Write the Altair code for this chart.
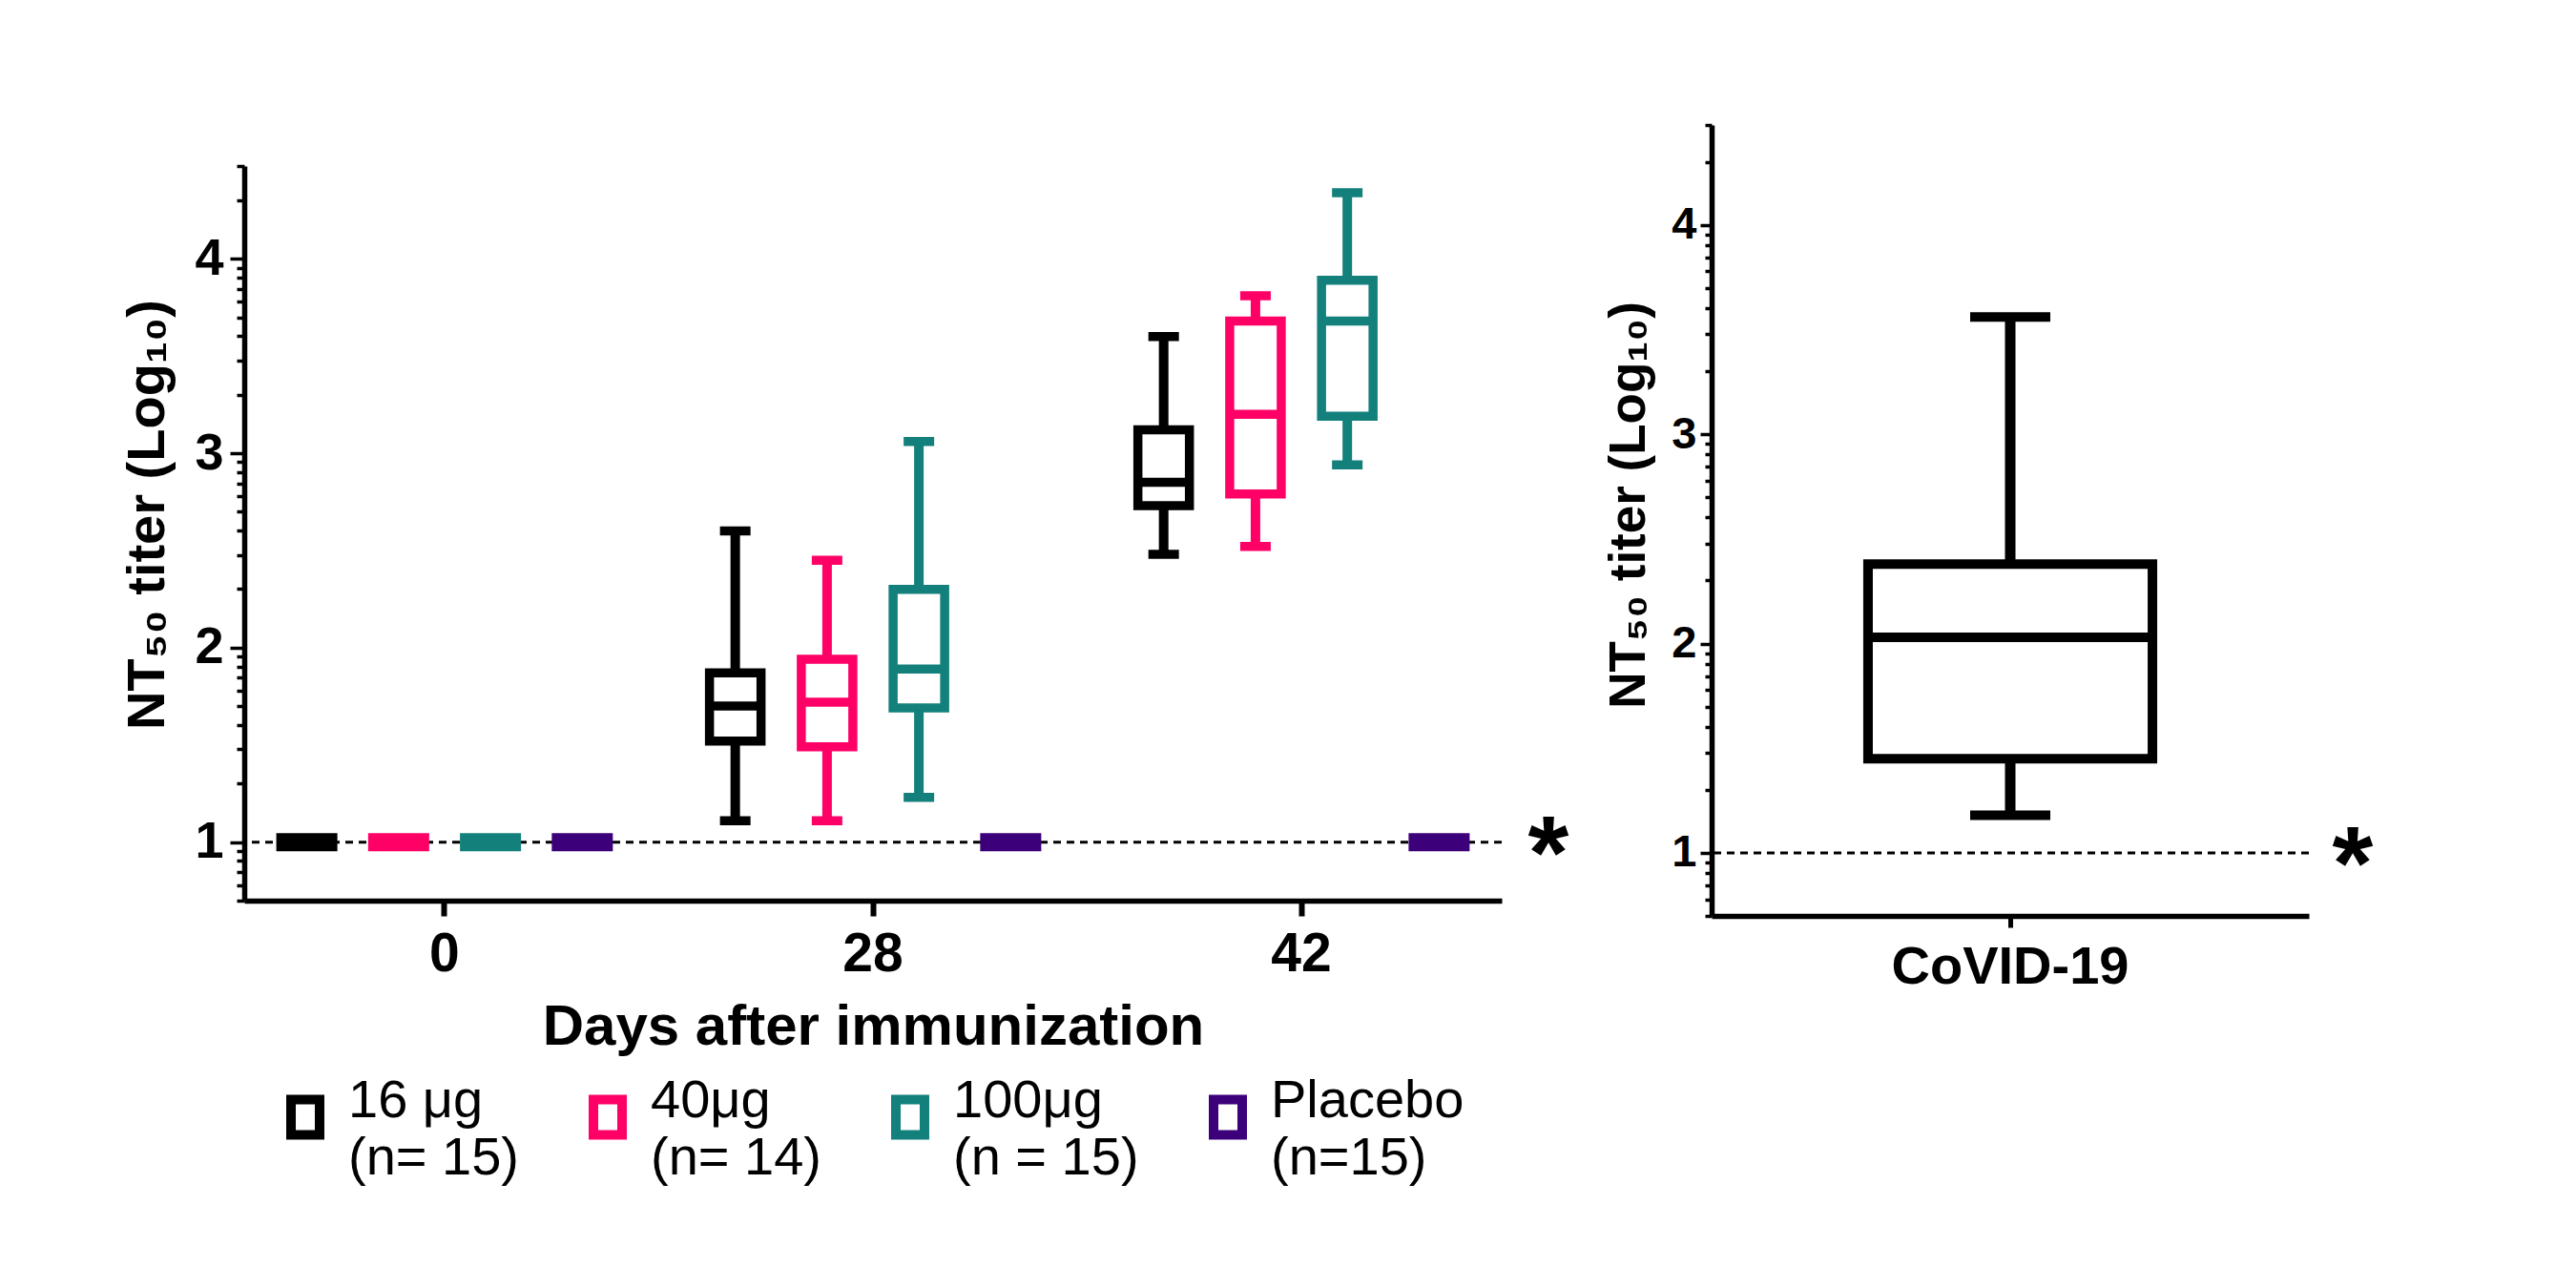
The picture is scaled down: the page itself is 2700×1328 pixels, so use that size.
import math
import altair as alt
import pandas as pd

# ---------------- data ----------------
days = ["0", "28", "42"]
groups = ["16 μg", "40μg", "100μg", "Placebo"]
group_n = ["(n= 15)", "(n= 14)", "(n = 15)", "(n=15)"]
colors = ["#000000", "#ff0066", "#13807c", "#3c007a"]

box_day = ["0"] * 4 + ["28"] * 4 + ["42"] * 4
box_group = groups * 3
lower = [1, 1, 1, 1, 1.11, 1.11, 1.23, 1, 2.48, 2.52, 2.94, 1]
q1 = [1, 1, 1, 1, 1.52, 1.49, 1.69, 1, 2.73, 2.79, 3.19, 1]
median = [1, 1, 1, 1, 1.70, 1.72, 1.89, 1, 2.85, 3.20, 3.68, 1]
q3 = [1, 1, 1, 1, 1.87, 1.94, 2.30, 1, 3.12, 3.68, 3.89, 1]
upper = [1, 1, 1, 1, 2.60, 2.45, 3.06, 1, 3.60, 3.81, 4.34, 1]

covid_cat = ["CoVID-19"]
covid_lower = [1.18]
covid_q1 = [1.45]
covid_median = [2.03]
covid_q3 = [2.38]
covid_upper = [3.56]

detection_limit = 1.0

# log10 axis: 5 .. 30000
y_min = math.log10(5)
y_max = math.log10(30000)
major = [1, 2, 3, 4]
minor = []
for e in range(0, 5):
    for k in range(2, 10):
        v = math.log10(k * 10 ** e)
        if y_min - 1e-9 <= v <= y_max + 1e-9:
            minor.append(v)
tick_values = sorted(major + minor)

legend_labels = [g + "|" + n for g, n in zip(groups, group_n)]
label_of = dict(zip(groups, legend_labels))

df = pd.DataFrame({
    "day": box_day, "group": box_group,
    "legend": [label_of[g] for g in box_group],
    "lower": lower, "q1": q1, "median": median, "q3": q3, "upper": upper,
})
cdf = pd.DataFrame({
    "cat": covid_cat, "lower": covid_lower, "q1": covid_q1,
    "median": covid_median, "q3": covid_q3, "upper": covid_upper,
})
star_df = pd.DataFrame({"s": ["*"]})

FONT = "Liberation Sans"
is_major = "abs(datum.value - round(datum.value)) < 0.001"
TITLE = "NT₅₀ titer (Log₁₀)"

# ---------------- left panel ----------------
ys = alt.Scale(domain=[y_min, y_max], nice=False, zero=False)

left_yaxis = alt.Axis(
    values=tick_values, labelExpr=f"{is_major} ? format(datum.value, 'd') : ''",
    labelOverlap=False, labelFlush=False,
    tickSize={"condition": {"test": is_major, "value": 15}, "value": 8},
    tickWidth=3.5, domainWidth=5.5, labelFontSize=54, labelFontWeight="bold",
    labelPadding=7, grid=False,
    title=TITLE, titleFontSize=56, titleFontWeight="bold",
    titleX=-85, titleY=365, titleAngle=270, titleBaseline="alphabetic",
    titleAlign="center",
)
left_xaxis = alt.Axis(
    title="Days after immunization", titleFontSize=60, titleFontWeight="bold",
    titleBaseline="alphabetic", titleY=150,
    labelFontSize=57, labelFontWeight="bold", labelAngle=0, labelPadding=12,
    tickSize=16, tickWidth=6, domainWidth=5.5, grid=False,
)

X = alt.X("day:N", sort=days,
          scale=alt.Scale(domain=days, paddingInner=0.1, paddingOuter=0.0176),
          axis=left_xaxis)
XO = alt.XOffset("group:N", sort=groups,
                 scale=alt.Scale(domain=groups, paddingInner=0.4387, paddingOuter=0.319))
C = alt.Color("group:N", scale=alt.Scale(domain=groups, range=colors), legend=None)

def Y(f):
    return alt.Y(f"{f}:Q", scale=ys, axis=left_yaxis, title=TITLE)

YD = alt.YDatum(detection_limit, scale=ys, axis=left_yaxis, title=TITLE)

base = alt.Chart(df)
boxes = base.transform_filter("datum.q3 > datum.q1")
flats = base.transform_filter("datum.q3 <= datum.q1")

dash = alt.Chart(star_df).mark_rule(strokeDash=[8, 6], strokeWidth=3, color="black").encode(y=YD)
w_low = boxes.mark_rule(strokeWidth=10, opacity=1).encode(x=X, xOffset=XO, y=Y("lower"), y2="q1:Q", color=C)
w_high = boxes.mark_rule(strokeWidth=10, opacity=1).encode(x=X, xOffset=XO, y=Y("q3"), y2="upper:Q", color=C)
cap_low = boxes.mark_tick(size=32, thickness=9.5, opacity=1).encode(x=X, xOffset=XO, y=Y("lower"), color=C)
cap_high = boxes.mark_tick(size=32, thickness=9.5, opacity=1).encode(x=X, xOffset=XO, y=Y("upper"), color=C)
box = boxes.mark_bar(filled=False, strokeWidth=9.5, opacity=1).encode(
    x=X, xOffset=XO, y=Y("q1"), y2="q3:Q",
    stroke=alt.Stroke("legend:N", scale=alt.Scale(domain=legend_labels, range=colors),
                      legend=alt.Legend(
                          title=None, orient="none", legendX=36, legendY=1012,
                          direction="horizontal", columns=4, padding=0,
                          symbolType="M-0.81,-1H0.81V1H-0.81Z", symbolSize=1369,
                          symbolStrokeWidth=10, symbolFillColor="white",
                          labelExpr="split(datum.label, '|')", labelFont=FONT,
                          labelFontSize=56, labelFontWeight="normal", labelColor="black",
                          labelOffset=17, labelLimit=600, columnPadding=58,
                          labelBaseline="alphabetic")),
)
med = boxes.mark_tick(size=54, thickness=9.5, opacity=1).encode(x=X, xOffset=XO, y=Y("median"), color=C)
flat = flats.mark_tick(size=64, thickness=19, opacity=1).encode(x=X, xOffset=XO, y=Y("median"), color=C)
star = alt.Chart(star_df).mark_text(fontSize=110, fontWeight="bold", font=FONT,
                                   baseline="alphabetic", align="center", dy=48,
                                   color="black").encode(
    x=alt.value(1367), y=YD, text="s:N")

left = alt.layer(dash, w_low, w_high, cap_low, cap_high, box, med, flat, star).properties(
    width=1318, height=770)

spacer = alt.Chart(star_df).mark_point(opacity=0).encode(
    x=alt.value(0), y=alt.value(0)).properties(width=1318, height=2)

left_col = alt.vconcat(spacer, left, spacing=13)

# ---------------- right panel ----------------
right_yaxis = alt.Axis(
    values=tick_values, labelExpr=f"{is_major} ? format(datum.value, 'd') : ''",
    labelOverlap=False, labelFlush=False,
    tickSize={"condition": {"test": is_major, "value": 12}, "value": 7},
    tickWidth=3.5, domainWidth=5.5, labelFontSize=47, labelFontWeight="bold",
    labelPadding=4, grid=False,
    title=TITLE, titleFontSize=53, titleFontWeight="bold",
    titleX=-71, titleY=398, titleAngle=270, titleBaseline="alphabetic",
    titleAlign="center",
)
right_xaxis = alt.Axis(
    title=None, labelFontSize=56, labelFontWeight="bold", labelAngle=0,
    labelPadding=14, tickSize=12, tickWidth=5, domainWidth=5.5, grid=False,
    labelLimit=1000,
)
RX = alt.X("cat:N", scale=alt.Scale(domain=covid_cat, paddingInner=0, paddingOuter=0.55),
           axis=right_xaxis, title=None)

def RY(f):
    return alt.Y(f"{f}:Q", scale=ys, axis=right_yaxis, title=TITLE)

RYD = alt.YDatum(detection_limit, scale=ys, axis=right_yaxis, title=TITLE)

cb = alt.Chart(cdf)
r_dash = alt.Chart(star_df).mark_rule(strokeDash=[8, 6], strokeWidth=3, color="black").encode(y=RYD)
r_wlow = cb.mark_rule(strokeWidth=11, color="black").encode(x=RX, y=RY("lower"), y2="q1:Q")
r_whigh = cb.mark_rule(strokeWidth=11, color="black").encode(x=RX, y=RY("q3"), y2="upper:Q")
r_cap_low = cb.mark_tick(size=84, thickness=10, color="black", opacity=1).encode(x=RX, y=RY("lower"))
r_cap_high = cb.mark_tick(size=84, thickness=10, color="black", opacity=1).encode(x=RX, y=RY("upper"))
r_box = cb.mark_bar(filled=False, stroke="black", strokeWidth=10, opacity=1).encode(x=RX, y=RY("q1"), y2="q3:Q")
r_med = cb.mark_tick(size=298, thickness=10, color="black", opacity=1).encode(x=RX, y=RY("median"))
r_star = alt.Chart(star_df).mark_text(fontSize=110, fontWeight="bold", font=FONT,
                                     baseline="alphabetic", align="center", dy=48,
                                     color="black").encode(
    x=alt.value(672), y=RYD, text="s:N")

right = alt.layer(r_dash, r_wlow, r_whigh, r_cap_low, r_cap_high, r_box, r_med, r_star).properties(
    width=626, height=829)

chart = alt.hconcat(left_col, right, spacing=36).properties(
    padding={"left": 118, "top": 99, "right": 10, "bottom": 10},
).configure(style={"guide-label": {"lineHeight": 60}}).configure_view(stroke=None).configure_axis(
    labelFont=FONT, titleFont=FONT, labelColor="black", titleColor="black",
    domainColor="black", tickColor="black",
)

chart.save("out.html", embed_options={"renderer": "svg", "actions": False})
